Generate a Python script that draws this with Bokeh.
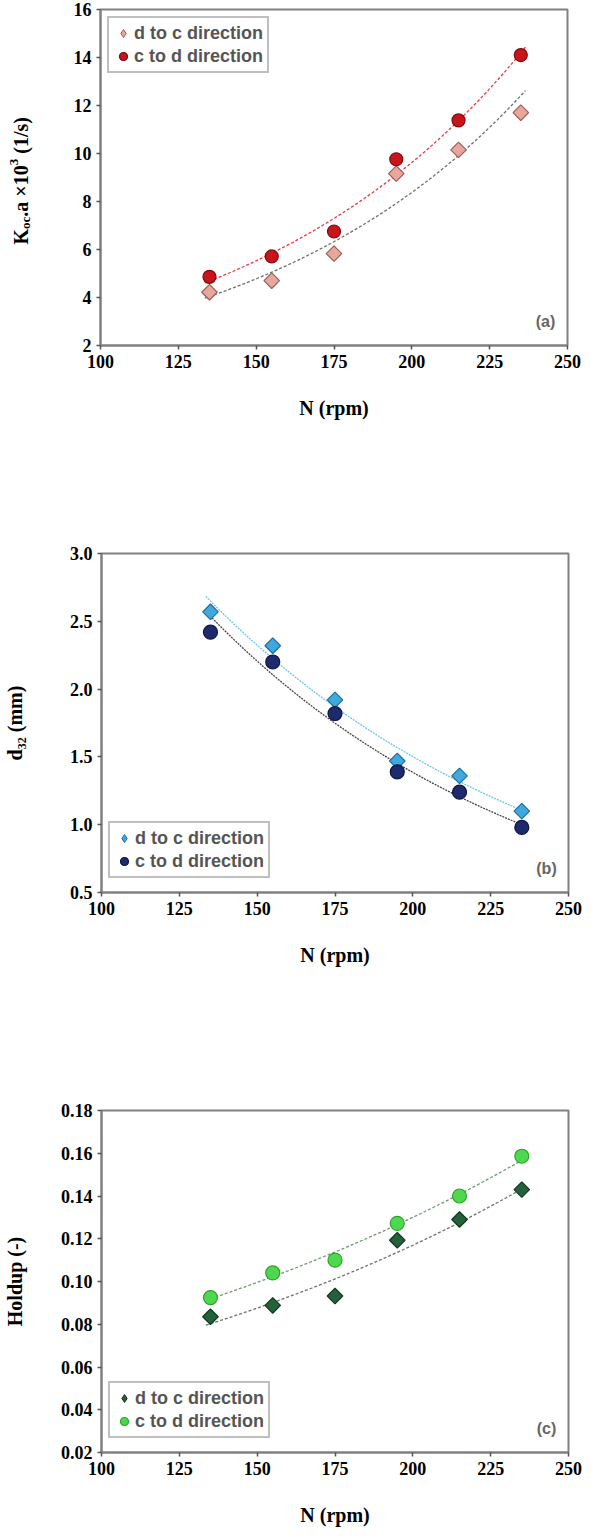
import numpy as np
from bokeh.plotting import figure
from bokeh.layouts import column, row
from bokeh.models import FixedTicker, NumeralTickFormatter, Label, Range1d
from bokeh.core.properties import value
from bokeh.embed import file_html
from bokeh.resources import INLINE

# ---------------- data ----------------
N_RPM = [135, 155, 175, 195, 215, 235]

KOCA_D_TO_C = [4.22, 4.70, 5.83, 9.16, 10.15, 11.70]
KOCA_C_TO_D = [4.86, 5.71, 6.75, 9.76, 11.38, 14.10]

D32_D_TO_C = [2.57, 2.32, 1.92, 1.47, 1.36, 1.10]
D32_C_TO_D = [2.42, 2.20, 1.82, 1.39, 1.24, 0.98]

HOLDUP_D_TO_C = [0.0835, 0.0888, 0.0932, 0.1193, 0.1290, 0.1430]
HOLDUP_C_TO_D = [0.0925, 0.1040, 0.1100, 0.1272, 0.1400, 0.1586]

X_TICKS = [100, 125, 150, 175, 200, 225, 250]
KOCA_TICKS = [2, 4, 6, 8, 10, 12, 14, 16]
D32_TICKS = [0.5, 1.0, 1.5, 2.0, 2.5, 3.0]
HOLDUP_TICKS = [0.02, 0.04, 0.06, 0.08, 0.10, 0.12, 0.14, 0.16, 0.18]

SERIES_LABELS = ["d to c direction", "c to d direction"]
PANEL_TAGS = ["(a)", "(b)", "(c)"]

SERIF = "Liberation Serif"
SANS = "Liberation Sans"
GRAY = "#808080"


def exp_trend(x, y):
    coeffs = np.polyfit(np.array(x, float), np.log(np.array(y, float)), 1)
    xs = np.linspace(min(x) - 1.5, max(x) + 1.5, 80)
    return xs, np.exp(np.polyval(coeffs, xs))


def make_panel(y_ticks, fmt, ylabel, d2c, c2d, tag, styles, frame_h,
               left, top, bottom, legend_loc, ylabel_standoff):
    p = figure(frame_width=467, frame_height=frame_h,
               min_border_left=left, min_border_right=17,
               min_border_top=top, min_border_bottom=bottom,
               x_range=Range1d(X_TICKS[0], X_TICKS[-1]),
               y_range=Range1d(y_ticks[0], y_ticks[-1]),
               toolbar_location=None, output_backend="svg",
               background_fill_color="white", border_fill_color="white",
               outline_line_color=GRAY, outline_line_width=2)
    p.xgrid.visible = False
    p.ygrid.visible = False

    p.xaxis.ticker = FixedTicker(ticks=X_TICKS, minor_ticks=[])
    p.yaxis.ticker = FixedTicker(ticks=y_ticks, minor_ticks=[])
    p.yaxis.formatter = NumeralTickFormatter(format=fmt)
    p.xaxis.formatter = NumeralTickFormatter(format="0")
    for ax in (p.xaxis[0], p.yaxis[0]):
        ax.axis_line_color = GRAY
        ax.axis_line_width = 2
        ax.major_tick_line_color = "#555555"
        ax.major_tick_line_width = 1.5
        ax.major_tick_out = 4
        ax.major_tick_in = 0
        ax.minor_tick_line_color = None
        ax.major_label_text_font = SERIF
        ax.major_label_text_font_style = "bold"
        ax.major_label_text_font_size = "18px"
        ax.major_label_text_color = "black"
        ax.axis_label_text_font = SERIF
        ax.axis_label_text_font_style = "bold"
        ax.axis_label_text_font_size = "20px"
        ax.axis_label_text_color = "black"
    p.xaxis.axis_label = "N (rpm)"
    p.xaxis.axis_label_standoff = 26
    if ylabel:
        p.yaxis.axis_label = ylabel
        p.yaxis.axis_label_standoff = ylabel_standoff

    (dfill, dline, dsize, dtrend, ddash), (cfill, cline, csize, ctrend, cdash) = styles

    xs, ys = exp_trend(N_RPM, d2c)
    p.line(xs, ys, line_color=dtrend, line_width=1.3, line_dash=ddash)
    xs, ys = exp_trend(N_RPM, c2d)
    p.line(xs, ys, line_color=ctrend, line_width=1.3, line_dash=cdash)

    # visible markers (rotated squares look like the original diamonds)
    p.scatter(N_RPM, d2c, marker="square", angle=np.pi / 4, size=dsize,
              fill_color=dfill, line_color=dline, line_width=1.2)
    # legend-only renderer for the diamond symbol
    p.scatter(N_RPM, d2c, marker="diamond", size=dsize,
              fill_color=dfill, line_color=dline, line_width=1.0,
              visible=False, legend_label=SERIES_LABELS[0])
    p.scatter(N_RPM, c2d, marker="circle", size=csize,
              fill_color=cfill, line_color=cline, line_width=1.2,
              legend_label=SERIES_LABELS[1])

    lg = p.legend[0]
    lg.location = legend_loc
    lg.margin = 7
    lg.border_line_color = GRAY
    lg.border_line_width = 2
    lg.background_fill_color = "white"
    lg.background_fill_alpha = 1
    lg.label_text_font = SANS
    lg.label_text_font_style = "bold"
    lg.label_text_font_size = "18px"
    lg.label_text_color = "#555555"
    lg.glyph_width = 20
    lg.glyph_height = 22
    lg.label_height = 22
    lg.label_standoff = 1
    lg.spacing = 1
    lg.padding = 4

    p.add_layout(Label(x=467 - 22, y=24, x_units="screen", y_units="screen",
                       text=tag, text_align="center", text_baseline="middle",
                       text_font=SANS, text_font_style="bold",
                       text_font_size="16px", text_color="#666666"))
    return p


# ---------------- panel (a) ----------------
A_H, A_TOP, A_BOTTOM, A_FRAME = 537, 9, 192, 336
pa = make_panel(KOCA_TICKS, "0", None, KOCA_D_TO_C, KOCA_C_TO_D, PANEL_TAGS[0],
                (("#e8a79d", "#9a5e56", 11, "#6e6e6e", "3 2"),
                 ("#c8151b", "#7e0a0e", 13, "#e83a40", "3 2")),
                A_FRAME, 60, A_TOP, A_BOTTOM, "top_left", 0)

# rotated y-axis title of (a) with subscript / superscript, in a narrow strip
lab = figure(frame_width=40, frame_height=A_H, min_border=0,
             x_range=Range1d(0, 40), y_range=Range1d(0, A_H),
             toolbar_location=None, output_backend="svg",
             x_axis_location=None, y_axis_location=None,
             outline_line_color=None, background_fill_color="white",
             border_fill_color="white")
lab.grid.visible = False
# (text, font size, perpendicular shift, advance width incl. trailing gap)
pieces = [("K", "20px", 0, 0.778 * 20),
          ("oc", "13px", 5, 0.944 * 13),
          (".a \u00d710", "20px", 0, 2.57 * 20),
          ("3", "13px", -7, 0.5 * 13 + 0.25 * 20),
          ("(1/s)", "20px", 0, 1.833 * 20)]
ypos = A_BOTTOM + 110.0
for txt, fs, dx, w in pieces:
    lab.text(x=[20 + dx], y=[ypos], text=[txt], angle=np.pi / 2,
             text_align="left", text_baseline="middle",
             text_font=value(SERIF), text_font_style="bold",
             text_font_size=fs, text_color="black")
    ypos += w

# ---------------- panel (b) ----------------
pb = make_panel(D32_TICKS, "0.0", "d\u2083\u2082 (mm)", D32_D_TO_C, D32_C_TO_D, PANEL_TAGS[1],
                (("#3fa9dd", "#1b6f9e", 11, "#6cc6e6", "2 1"),
                 ("#1d2b6e", "#0c1640", 14, "#444444", "2 1")),
                339, 100, 16, 202, (7, 14), 41)

# ---------------- panel (c) ----------------
pc = make_panel(HOLDUP_TICKS, "0.00", "Holdup (-)", HOLDUP_D_TO_C, HOLDUP_C_TO_D, PANEL_TAGS[2],
                (("#24613a", "#123a20", 11, "#707070", "3 2"),
                 ("#4fd84f", "#2aa52a", 14, "#6f9a6f", "3 2")),
                342, 100, 16, 75, (7, 14), 32)

layout = column(row(lab, pa, spacing=0), pb, pc, spacing=0)
open("out.html", "w").write(file_html(layout, INLINE))
